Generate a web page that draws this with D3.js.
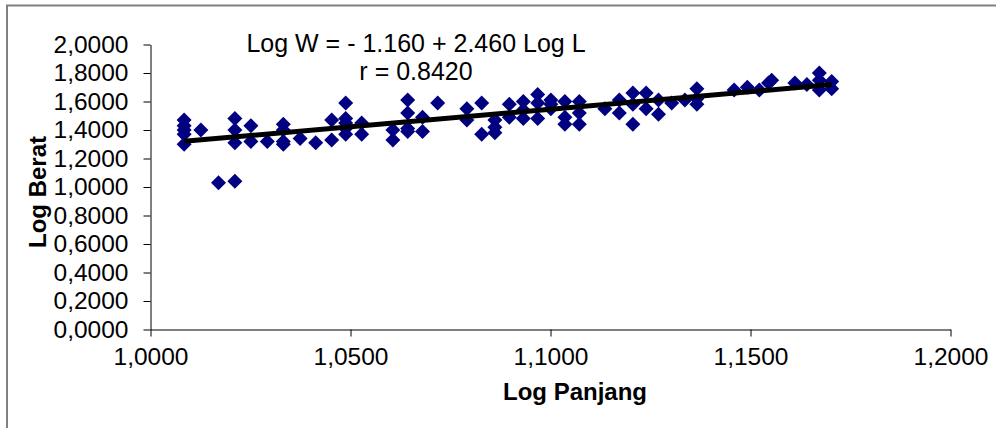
<!DOCTYPE html>
<html><head><meta charset="utf-8">
<script src="https://cdnjs.cloudflare.com/ajax/libs/d3/7.8.5/d3.min.js"></script>
<style>
html,body{margin:0;padding:0;background:#fff;}
text{font-family:"Liberation Sans",Arial,sans-serif;}
</style></head><body>
<svg id="c" width="996" height="428"></svg>
<script>
// Data: Log Panjang (x) and Log Berat (y)
const logPanjang = [
 1.0084,1.0084,1.0084,1.0084,1.0084,
 1.0126,1.0170,
 1.0211,1.0211,1.0211,1.0211,
 1.0251,1.0251,1.0292,
 1.0332,1.0332,1.0332,1.0332,
 1.0374,1.0413,1.0453,1.0453,
 1.0488,1.0488,1.0488,1.0488,1.0488,
 1.0528,1.0528,1.0606,1.0606,
 1.0643,1.0643,1.0643,1.0643,
 1.0680,1.0680,1.0718,
 1.0791,1.0791,1.0828,1.0828,
 1.0861,1.0861,1.0861,
 1.0897,1.0897,
 1.0932,1.0932,1.0932,
 1.0968,1.0968,1.0968,
 1.1001,1.1001,1.1001,
 1.1036,1.1036,1.1036,
 1.1072,1.1072,1.1072,
 1.1136,1.1172,1.1172,
 1.1206,1.1206,1.1206,
 1.1239,1.1239,1.1270,1.1270,
 1.1303,1.1336,
 1.1366,1.1366,1.1366,
 1.1459,1.1492,1.1522,1.1545,1.1553,
 1.1611,1.1641,
 1.1672,1.1672,1.1672,
 1.1703,1.1703
];
const logBerat = [
 1.47,1.43,1.40,1.37,1.30,
 1.40,1.03,
 1.04,1.48,1.40,1.31,
 1.43,1.32,1.32,
 1.44,1.40,1.32,1.30,
 1.34,1.31,1.47,1.33,
 1.59,1.48,1.45,1.41,1.37,
 1.45,1.37,1.40,1.33,
 1.61,1.52,1.41,1.39,
 1.49,1.39,1.59,
 1.55,1.47,1.59,1.37,
 1.47,1.42,1.38,
 1.58,1.49,
 1.60,1.54,1.48,
 1.65,1.59,1.48,
 1.61,1.55,1.58,
 1.60,1.49,1.44,
 1.60,1.52,1.44,
 1.55,1.61,1.52,
 1.66,1.58,1.44,
 1.66,1.55,1.61,1.51,
 1.59,1.61,
 1.69,1.62,1.58,
 1.68,1.70,1.68,1.73,1.75,
 1.73,1.72,
 1.80,1.75,1.68,
 1.74,1.69
];
const intercept = -1.160, slope = 2.460;
const eqLabel = "Log W = - 1.160 + 2.460 Log L";
const rLabel = "r = 0.8420";
const xTicks = [1.0, 1.05, 1.1, 1.15, 1.2];
const yTicks = [0,0.2,0.4,0.6,0.8,1.0,1.2,1.4,1.6,1.8,2.0];
const xTitle = "Log Panjang", yTitle = "Log Berat";

const svg = d3.select("#c");
const x = d3.scaleLinear().domain([1.0,1.2]).range([150.5,950.5]);
const y = d3.scaleLinear().domain([0,2]).range([329.5,44.5]);
const fmt = v => d3.format(".4f")(v).replace(".", ",");

// frame
svg.append("path").attr("d","M7,428V5.5H996").attr("fill","none").attr("stroke","#808080").attr("stroke-width",2);

const fs = "24.5px";
const gx = svg.append("g").attr("transform","translate(0,329.5)")
  .call(d3.axisBottom(x).tickValues(xTicks).tickFormat(fmt).tickSize(7).tickSizeOuter(0).tickPadding(11));
const gy = svg.append("g").attr("transform","translate(150.5,0)")
  .call(d3.axisLeft(y).tickValues(yTicks).tickFormat(fmt).tickSize(7).tickSizeOuter(0).tickPadding(15));
[gx,gy].forEach(g=>{
  g.selectAll("text").attr("font-size",fs).attr("fill","#000").attr("font-family","Liberation Sans, Arial, sans-serif");
  g.select(".domain").attr("stroke","#000");
  g.selectAll(".tick line").attr("stroke","#000");
});

// points
const h = 7.5;
const diamond = `M0,${-h}L${h},0L0,${h}L${-h},0Z`;
svg.append("g").selectAll("path").data(logPanjang.map((v,i)=>[v,logBerat[i]])).join("path")
  .attr("d",diamond).attr("transform",d=>`translate(${x(d[0])},${y(d[1])})`)
  .attr("fill","#000080");

// regression line
const x0 = d3.min(logPanjang), x1 = d3.max(logPanjang);
svg.append("line").attr("x1",x(x0)).attr("y1",y(intercept+slope*x0))
  .attr("x2",x(x1)).attr("y2",y(intercept+slope*x1))
  .attr("stroke","#000").attr("stroke-width",5);

// equation
svg.append("text").attr("x",416).attr("y",52).attr("text-anchor","middle").attr("font-size","25px").text(eqLabel);
svg.append("text").attr("x",416).attr("y",80).attr("text-anchor","middle").attr("font-size","25px").text(rLabel);

// axis titles
svg.append("text").attr("x",575).attr("y",400).attr("text-anchor","middle").attr("font-size","24px").attr("font-weight","bold").text(xTitle);
svg.append("text").attr("transform","translate(46,192) rotate(-90)").attr("text-anchor","middle").attr("font-size","24px").attr("font-weight","bold").text(yTitle);
</script></body></html>
